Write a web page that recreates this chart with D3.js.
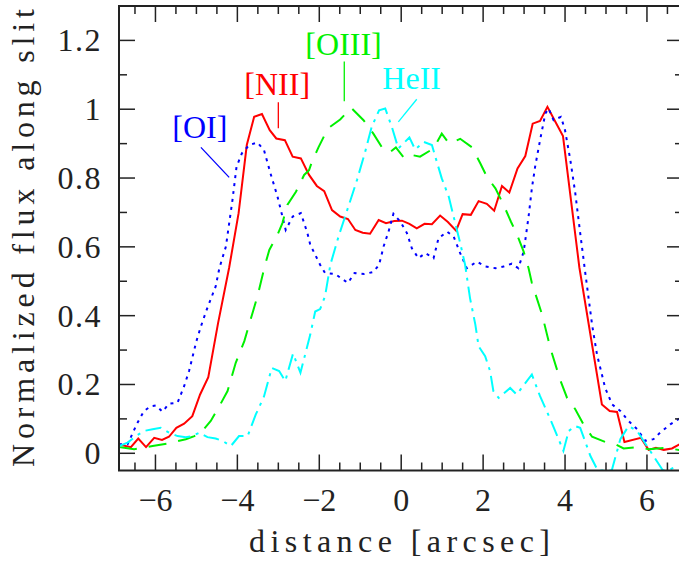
<!DOCTYPE html>
<html>
<head>
<meta charset="utf-8">
<script src="https://cdn.jsdelivr.net/npm/d3@7"></script>
<style>
  body { margin: 0; background: #fff; }
  text { font-family: "Liberation Serif", "DejaVu Serif", serif; }
</style>
</head>
<body>
<div id="chart"></div>
<script>
// DATA ---------------------------------------------------------------
// [NII] (solid red)
let nii_dist = [-6.89,-6.60,-6.42,-6.23,-6.03,-5.84,-5.67,-5.49,-5.30,-5.10,-4.91,-4.71,-4.47,-4.20,-3.97,-3.77,-3.59,-3.40,-3.21,-3.05,-2.84,-2.65,-2.45,-2.25,-2.06,-1.88,-1.69,-1.49,-1.30,-1.12,-0.94,-0.76,-0.55,-0.37,-0.17,0.02,0.20,0.38,0.57,0.75,0.95,1.14,1.34,1.50,1.70,1.89,2.09,2.27,2.46,2.64,2.84,3.03,3.21,3.39,3.57,3.78,3.95,4.35,4.90,5.09,5.27,5.45,5.85,6.04,6.22,6.41,6.61,6.80];
let nii_flux = [0.026,0.018,0.043,0.018,0.045,0.039,0.048,0.074,0.086,0.108,0.171,0.221,0.379,0.54,0.698,0.896,0.978,0.986,0.939,0.915,0.910,0.862,0.857,0.809,0.777,0.762,0.707,0.688,0.681,0.649,0.641,0.638,0.678,0.669,0.675,0.676,0.667,0.654,0.667,0.666,0.691,0.672,0.647,0.695,0.693,0.733,0.725,0.705,0.777,0.758,0.828,0.864,0.958,0.966,1.007,0.960,0.922,0.54,0.142,0.123,0.120,0.033,0.045,0.010,0.016,0.010,0.014,0.026];

// [OI] (dotted blue)
let oi_dist = [-6.89,-6.68,-6.46,-6.28,-6.11,-5.99,-5.83,-5.67,-5.46,-5.30,-5.18,-5.00,-4.89,-4.75,-4.53,-4.44,-4.28,-4.12,-4.02,-3.89,-3.71,-3.51,-3.35,-3.18,-3.02,-2.90,-2.82,-2.65,-2.45,-2.29,-2.22,-1.98,-1.86,-1.61,-1.30,-1.14,-0.90,-0.68,-0.54,-0.43,-0.31,-0.19,-0.02,0.14,0.26,0.42,0.59,0.79,0.91,1.12,1.28,1.44,1.60,1.85,2.05,2.30,2.50,2.70,2.86,2.99,3.11,3.19,3.27,3.39,3.52,3.60,3.72,3.90,4.00,4.13,4.25,4.37,4.49,4.66,4.78,4.98,5.15,5.35,5.55,5.76,5.96,6.16,6.32,6.57,6.77,6.88];
let oi_flux = [0.026,0.026,0.084,0.123,0.137,0.139,0.121,0.144,0.147,0.195,0.239,0.326,0.369,0.417,0.485,0.538,0.601,0.736,0.833,0.872,0.896,0.903,0.881,0.809,0.746,0.688,0.649,0.688,0.698,0.640,0.606,0.548,0.524,0.521,0.495,0.524,0.521,0.527,0.548,0.601,0.644,0.696,0.673,0.640,0.596,0.567,0.582,0.567,0.625,0.644,0.630,0.582,0.538,0.557,0.543,0.538,0.543,0.551,0.538,0.586,0.688,0.770,0.833,0.910,0.988,1.002,0.968,0.978,0.939,0.852,0.756,0.640,0.528,0.374,0.287,0.190,0.142,0.123,0.094,0.070,0.036,0.041,0.060,0.084,0.099,0.070];

// [OIII] (dashed green)
let oiii_dist = [-6.89,-6.52,-6.07,-5.67,-5.26,-5.05,-4.89,-4.65,-4.44,-4.24,-4.04,-3.83,-3.63,-3.51,-3.33,-3.22,-3.02,-2.90,-2.78,-2.57,-2.37,-2.25,-2.18,-2.02,-1.79,-1.49,-1.22,-0.92,-0.68,-0.47,-0.29,-0.13,0.08,0.26,0.46,0.79,0.99,1.17,1.44,1.73,1.93,2.09,2.30,2.50,2.68,2.83,2.99,3.11,3.19,3.44,3.64,3.88,4.05,4.25,4.45,4.66,4.98,5.23,5.43,5.76,6.04,6.49,6.80];
let oiii_flux = [0.018,0.012,0.021,0.029,0.041,0.050,0.060,0.094,0.137,0.181,0.263,0.326,0.408,0.456,0.545,0.591,0.635,0.669,0.722,0.760,0.809,0.823,0.847,0.889,0.944,0.970,1.004,0.968,0.929,0.889,0.874,0.889,0.857,0.867,0.862,0.886,0.929,0.900,0.914,0.889,0.843,0.804,0.770,0.722,0.673,0.635,0.586,0.538,0.495,0.403,0.306,0.214,0.161,0.128,0.084,0.048,0.033,0.026,0.014,0.018,0.012,0.016,0.009];

// HeII (dash-dot cyan)
let heii_dist = [-6.89,-6.68,-6.44,-6.28,-6.07,-5.87,-5.67,-5.46,-5.26,-5.10,-4.93,-4.73,-4.53,-4.36,-4.16,-3.96,-3.75,-3.55,-3.35,-3.16,-2.98,-2.83,-2.64,-2.46,-2.22,-2.10,-1.98,-1.86,-1.73,-1.53,-1.29,-1.08,-0.88,-0.72,-0.54,-0.39,-0.23,-0.07,0.20,0.34,0.55,0.75,0.87,0.99,1.16,1.28,1.44,1.56,1.68,1.81,1.89,2.05,2.17,2.25,2.38,2.66,2.82,3.19,3.39,3.64,3.96,4.09,4.25,4.37,4.62,4.80,5.14,5.35,5.55,5.76,6.16,6.39,6.57,6.77];
let heii_flux = [0.021,0.031,0.053,0.065,0.070,0.074,0.060,0.050,0.047,0.050,0.060,0.047,0.043,0.036,0.021,0.050,0.050,0.113,0.165,0.248,0.239,0.210,0.290,0.234,0.345,0.412,0.419,0.456,0.548,0.630,0.717,0.794,0.876,0.949,0.997,1.002,0.949,0.886,0.918,0.883,0.905,0.896,0.847,0.799,0.746,0.688,0.611,0.548,0.451,0.374,0.311,0.282,0.239,0.181,0.161,0.190,0.171,0.229,0.166,0.099,0.007,0.065,0.079,0.074,-0.008,-0.05,-0.05,0.041,0.079,0.065,-0.008,-0.05,-0.046,-0.037];

// Tick values
let x_major_ticks = [-6, -4, -2, 0, 2, 4, 6];
let y_major_ticks = [0, 0.2, 0.4, 0.6, 0.8, 1, 1.2];

// Line labels with leader lines (in data coordinates)
let line_labels = [
  { name: "[OI]", color: "#0000ff", x: -5.59, y: 0.916, lx1: -4.89, ly1: 0.889, lx2: -4.20, ly2: 0.802 },
  { name: "[NII]", color: "#ff0000", x: -3.83, y: 1.041, lx1: -3.0, ly1: 1.020, lx2: -3.0, ly2: 0.945 },
  { name: "[OIII]", color: "#00f000", x: -2.34, y: 1.159, lx1: -1.39, ly1: 1.139, lx2: -1.39, ly2: 1.023 },
  { name: "HeII", color: "#00ffff", x: -0.46, y: 1.058, lx1: 0.38, ly1: 1.029, lx2: -0.07, ly2: 0.963 },
];

// SETUP --------------------------------------------------------------
let width = 679,
  height = 565;
let plot = { left: 119, right: 683, top: 6, bottom: 470.5 };

let svg = d3
  .select("#chart")
  .append("svg")
  .attr("width", width)
  .attr("height", height);

let x = d3.scaleLinear().domain([-6.89, 6.88]).range([plot.left, plot.right]);
let y = d3.scaleLinear().domain([-0.05, 1.3]).range([plot.bottom, plot.top]);

svg
  .append("clipPath")
  .attr("id", "plot-clip")
  .append("rect")
  .attr("x", plot.left)
  .attr("y", plot.top)
  .attr("width", plot.right - plot.left)
  .attr("height", plot.bottom - plot.top);

// CURVES -------------------------------------------------------------
let series = [
  { dist: nii_dist, flux: nii_flux, color: "#ff0000", dash: null },
  { dist: oi_dist, flux: oi_flux, color: "#0000ff", dash: "3,5" },
  { dist: oiii_dist, flux: oiii_flux, color: "#00f000", dash: "18,12" },
  { dist: heii_dist, flux: heii_flux, color: "#00ffff", dash: "16,6,3,6" },
];

let line = d3
  .line()
  .x((d) => x(d[0]))
  .y((d) => y(d[1]));

svg
  .append("g")
  .attr("clip-path", "url(#plot-clip)")
  .selectAll("path")
  .data(series)
  .enter()
  .append("path")
  .attr("d", (s) => line(d3.zip(s.dist, s.flux)))
  .attr("fill", "none")
  .attr("stroke", (s) => s.color)
  .attr("stroke-width", 2)
  .attr("stroke-dasharray", (s) => s.dash);

// AXES ---------------------------------------------------------------
let axis_color = "#222";

// frame
svg
  .append("rect")
  .attr("x", plot.left)
  .attr("y", plot.top)
  .attr("width", plot.right - plot.left)
  .attr("height", plot.bottom - plot.top)
  .attr("fill", "none")
  .attr("stroke", axis_color)
  .attr("stroke-width", 2);

// x ticks (bottom and top, pointing inward)
let x_minor_ticks = d3.range(-6.5, 7, 0.5);
let x_ticks = svg.append("g").attr("stroke", axis_color).attr("stroke-width", 1.5);
x_minor_ticks.forEach((t) => {
  let len = x_major_ticks.includes(t) ? 16 : 8;
  x_ticks.append("line").attr("x1", x(t)).attr("x2", x(t)).attr("y1", plot.bottom).attr("y2", plot.bottom - len);
  x_ticks.append("line").attr("x1", x(t)).attr("x2", x(t)).attr("y1", plot.top).attr("y2", plot.top + len);
});

// y ticks (left and right)
let y_minor_ticks = d3.range(0, 13).map((i) => i / 10);
let y_ticks = svg.append("g").attr("stroke", axis_color).attr("stroke-width", 1.5);
y_minor_ticks.forEach((t, i) => {
  let len = i % 2 == 0 ? 16 : 8;
  y_ticks.append("line").attr("x1", plot.left).attr("x2", plot.left + len).attr("y1", y(t)).attr("y2", y(t));
  y_ticks.append("line").attr("x1", plot.right).attr("x2", plot.right - len).attr("y1", y(t)).attr("y2", y(t));
});

// tick labels
svg
  .selectAll(".xlabel")
  .data(x_major_ticks)
  .enter()
  .append("text")
  .attr("class", "xlabel")
  .attr("x", (d) => x(d))
  .attr("y", 511)
  .attr("text-anchor", "middle")
  .attr("font-size", 32)
  .attr("fill", axis_color)
  .text((d) => (d < 0 ? "\u2212" + Math.abs(d) : d));

svg
  .selectAll(".ylabel")
  .data(y_major_ticks)
  .enter()
  .append("text")
  .attr("class", "ylabel")
  .attr("x", 102)
  .attr("y", (d) => y(d) + 11)
  .attr("text-anchor", "end")
  .attr("font-size", 32)
  .attr("letter-spacing", 1.5)
  .attr("fill", axis_color)
  .text((d) => d);

// axis titles
svg
  .append("text")
  .attr("x", 249)
  .attr("y", 552)
  .attr("font-size", 32)
  .attr("textLength", 301)
  .attr("lengthAdjust", "spacing")
  .attr("fill", axis_color)
  .text("distance [arcsec]");

svg
  .append("text")
  .attr("transform", "translate(34,467) rotate(-90)")
  .attr("font-size", 32)
  .attr("textLength", 458)
  .attr("lengthAdjust", "spacing")
  .attr("fill", axis_color)
  .text("Normalized flux along slit");

// LINE LABELS --------------------------------------------------------
let labels = svg.selectAll(".line-label").data(line_labels).enter().append("g");

labels
  .append("line")
  .attr("x1", (d) => x(d.lx1))
  .attr("y1", (d) => y(d.ly1))
  .attr("x2", (d) => x(d.lx2))
  .attr("y2", (d) => y(d.ly2))
  .attr("stroke", (d) => d.color)
  .attr("stroke-width", 1.3);

labels
  .append("text")
  .attr("x", (d) => x(d.x))
  .attr("y", (d) => y(d.y))
  .attr("font-size", 32)
  .attr("fill", (d) => d.color)
  .text((d) => d.name);
</script>
</body>
</html>
